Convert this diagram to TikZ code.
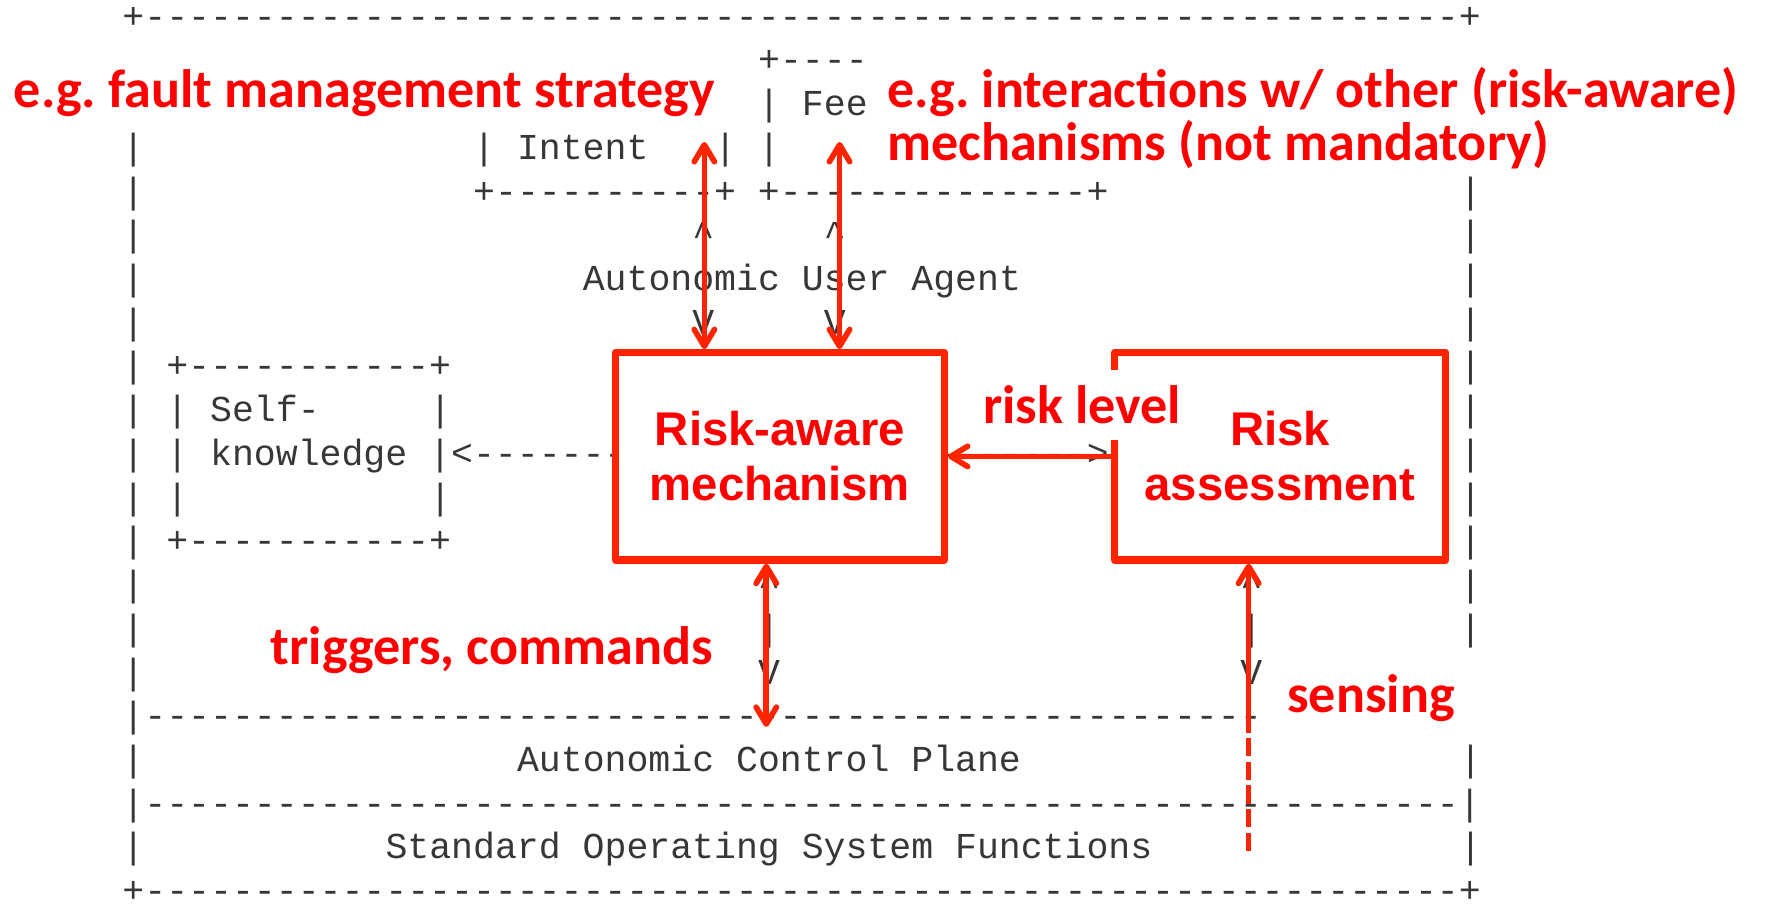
\documentclass[tikz,border=0pt]{standalone}
\usepackage{fontspec}
\setmonofont{Liberation Mono}
\newfontfamily\notefamily{Carlito}
\newfontfamily\boxfamily{Liberation Sans}
\usetikzlibrary{arrows.meta,positioning}
\definecolor{linered}{RGB}{255,36,0}
\definecolor{textred}{RGB}{255,0,0}
\definecolor{asciigray}{RGB}{55,55,55}
\newcommand{\dashrun}[1]{\foreach\dsh in {1,...,#1}{-}}
\frenchspacing
\tikzset{
  ascii/.style   = {font=\ttfamily\fontsize{16.2}{19.5}\selectfont, text=asciigray,
                    inner sep=0pt, anchor=base west},
  riskbox/.style = {draw=linered, line width=3.2pt, line join=round, fill=white, text=textred,
                    align=center, font=\boxfamily\bfseries\fontsize{21}{24.5}\selectfont,
                    minimum height=92pt},
  note/.style    = {text=textred, font=\notefamily\bfseries\fontsize{24}{25}\selectfont,
                    inner sep=0pt, anchor=base west},
  link/.style    = {draw=linered, line width=2.5pt}
}

\begin{document}
\begin{tikzpicture}[x=0.5pt, y=-0.5pt, >={Straight Barb[length=7.5pt, width=9pt, round]}]
\fill[white] (0,0) rectangle (1568,805);

% the ascii drawing, one unit is one character cell
\begin{scope}[shift={(108.3,25)}, x=9.725pt, y=-19.4pt]
\node[ascii] (top)     at (0,0)  {+\dashrun{60}+};
\node[ascii] (feedtop) at (29,1) {+----};
\node[ascii] (fee)     at (29,2) {| Fee};
\node[ascii] (intent)  at (16,3) {| Intent};
\node[ascii] (intentr) at (27,3) {|};
\node[ascii] (feedl)   at (29,3) {|};
\node[ascii] (userbox) at (16,4) {+\dashrun{10}+ +\dashrun{14}+};
\node[ascii] (up1)     at (26,5) {\^{}};
\node[ascii] (up2)     at (32,5) {\^{}};
\node[ascii] (agent)   at (21,6) {Autonomic User Agent};
\node[ascii] (down1)   at (26,7) {V};
\node[ascii] (down2)   at (32,7) {V};
% self-knowledge
\node[ascii] (selftop) at (2,8)  {+\dashrun{11}+};
\node[ascii] (self)    at (2,9)  {| Self-};
\node[ascii] (selfr)   at (14,9) {|};
\node[ascii] (know)    at (2,10) {| knowledge |<\dashrun{7}};
\node[ascii] (mid)     at (37,10) {\dashrun{7}>};
\node[ascii] (selfl)   at (2,11) {|};
\node[ascii] (selfr2)  at (14,11) {|};
\node[ascii] (selfbot) at (2,12) {+\dashrun{11}+};
\foreach \c in {29,51} {
  \node[ascii] (up\c)   at (\c,13) {\^{}};
  \node[ascii] (bar\c)  at (\c,14) {|};
  \node[ascii] (down\c) at (\c,15) {V};
}
\node[ascii] (acptop)  at (0,16) {|\dashrun{51}};
\node[ascii] (acp)     at (18,17) {Autonomic Control Plane};
\node[ascii] (osstop)  at (0,18) {|\dashrun{60}|};
\node[ascii] (oss)     at (12,19) {Standard Operating System Functions};
\node[ascii] (bottom)  at (0,20) {+\dashrun{60}+};
\foreach \r in {3,...,15,17,19}
  \node[ascii] (left\r) at (0,\r) {|};
\foreach \r in {4,...,14,17,19}
  \node[ascii] (right\r) at (61,\r) {|};
\end{scope}

% red overlay
\node[riskbox, minimum width=146pt] (mech) at (692,405) {Risk-aware\\mechanism};
\node[riskbox, minimum width=147pt] (assess) at (1136,405) {Risk\\assessment};

\coordinate (faultend) at (625,126);
\coordinate (interend) at (745,126);
\coordinate (trigend) at (680,645);
\coordinate (senseend) at (1108,640);
\coordinate (sensefoot) at (1108,755);

\draw[link,<->] (faultend) -- (faultend |- mech.north);
\draw[link,<->] (interend) -- (interend |- mech.north);
\draw[link,->] (assess.west) -- (mech.east);
\draw[link,<->] (trigend |- mech.south) -- (trigend);
\draw[link,->] (senseend) -- (senseend |- assess.south);
\draw[link,dash pattern=on 8pt off 2.5pt] (sensefoot) -- (senseend);

\node[note] (fault)  at (12,95)   {e.g. fault management strategy};
\node[note] (inter1) at (787,95)  {e.g. interactions w/ other (risk-aware)};
\node[note] (inter2) at (787,142) {mechanisms (not mandatory)};
\node[note, fill=white, inner xsep=3pt, inner ysep=7pt] (level) at (866,376) {risk level};
\node[note] (trig)   at (240,590) {triggers, commands};
\node[note] (sense)  at (1142,632) {sensing};
\end{tikzpicture}
\end{document}
